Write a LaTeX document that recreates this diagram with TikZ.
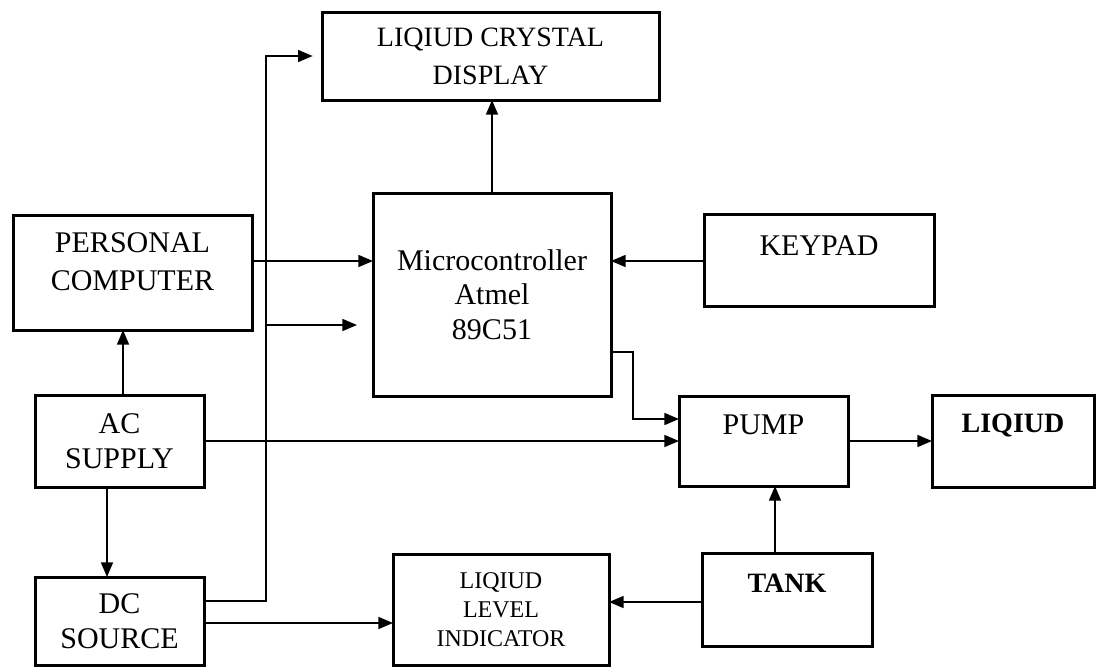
\documentclass[tikz,border=0pt]{standalone}
\usepackage{fontspec}
\setmainfont{Liberation Serif}
\usetikzlibrary{arrows.meta}
\begin{document}
\begin{tikzpicture}[x=0.75pt,y=-0.75pt,
  box/.style={draw, line width=2.25pt, inner sep=0pt, outer sep=0pt},
  lbl/.style={font=\fontsize{22.5}{26}\selectfont, align=center, inner sep=0pt},
  conn/.style={line width=1.2pt},
  arr/.style={conn, -{Triangle[length=11pt,width=9pt]}}]
\useasboundingbox (0,0) rectangle (1097,668);

% blocks
\node[box, minimum width=252.75pt, minimum height=66pt,
  label={[lbl, name=lcdT, font=\fontsize{21}{28.5}\selectfont]center:{LIQIUD CRYSTAL\\DISPLAY}}] (lcd) at (490.5,56) {};
\node[box, minimum width=179.25pt, minimum height=86.25pt,
  label={[lbl, name=pcT, yshift=8.25pt, font=\fontsize{22.5}{28.5}\selectfont]center:{PERSONAL\\COMPUTER}}] (pc) at (132.5,272.5) {};
\node[box, minimum width=178.5pt, minimum height=152.25pt,
  label={[lbl, name=micT]center:{Microcontroller\\Atmel\\89C51}}] (mic) at (492,294.5) {};
\node[box, minimum width=172.5pt, minimum height=69pt,
  label={[lbl, name=kpT, yshift=11pt]center:{KEYPAD}}] (kp) at (819,260) {};
\node[box, minimum width=126.75pt, minimum height=69pt,
  label={[lbl, name=acT]center:{AC\\SUPPLY}}] (ac) at (119.5,441) {};
\node[box, minimum width=126.75pt, minimum height=67.5pt,
  label={[lbl, name=pumpT, yshift=12pt]center:{PUMP}}] (pump) at (763.5,441) {};
\node[box, minimum width=121.5pt, minimum height=69pt,
  label={[lbl, name=liqT, yshift=12pt, font=\fontsize{21}{26}\selectfont\bfseries]center:{LIQIUD}}] (liq) at (1013,441) {};
\node[box, minimum width=126.75pt, minimum height=66pt,
  label={[lbl, name=dcT]center:{DC\\SOURCE}}] (dc) at (119.5,621) {};
\node[box, minimum width=162pt, minimum height=83.25pt,
  label={[lbl, name=lliT, font=\fontsize{18}{21.75}\selectfont]center:{LIQIUD\\LEVEL\\INDICATOR}}] (lli) at (501,609.5) {};
\node[box, minimum width=127.5pt, minimum height=69.75pt,
  label={[lbl, name=tankT, yshift=12pt, font=\fontsize{21}{26}\selectfont\bfseries]center:{TANK}}] (tank) at (787,599.5) {};

\coordinate (bus) at (266,325);

% connectors
\draw[arr] (mic.north) -- (mic.north |- lcd.south);
\draw[arr] (pc.east |- 0,261) -- (mic.west |- 0,261);
\draw[arr] (kp.west |- 0,261) -- (mic.east |- 0,261);
\draw[arr] (ac.north -| 123,0) -- (pc.south -| 123,0);
\draw[arr] (ac.south -| 107,0) -- (dc.north -| 107,0);
\draw[arr] (ac.east) -- (pump.west);
\draw[arr, shorten >=7pt] (dc.east |- 0,601) -| (lcd.west -| bus) -- (lcd.west);
\draw[arr, shorten >=12pt] (bus) -- (mic.west |- bus);
\draw[arr] (dc.east |- 0,623) -- (lli.west |- 0,623);
\draw[arr] (mic.east |- 0,352) -- ++(22,0) |- (pump.west |- 0,419);
\draw[arr] (pump.east) -- (liq.west);
\draw[arr] (tank.north -| 775,0) -- (pump.south -| 775,0);
\draw[arr] (tank.west |- 0,602) -- (lli.east |- 0,602);
\end{tikzpicture}
\end{document}
